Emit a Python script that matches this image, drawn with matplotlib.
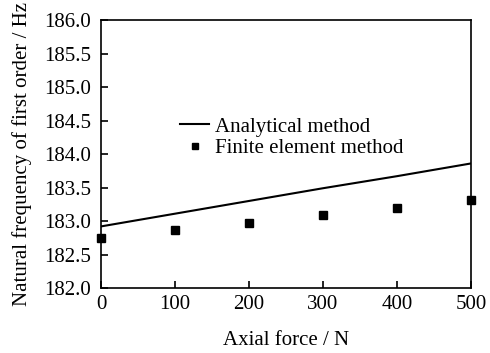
import matplotlib
matplotlib.use("Agg")
import matplotlib.pyplot as plt
import numpy as np

# axial force values (N)
force = [0, 100, 200, 300, 400, 500]
# analytical natural frequency (Hz)
analytical = [182.92, 183.11, 183.30, 183.49, 183.67, 183.86]
# finite element natural frequency (Hz)
fem = [182.75, 182.86, 182.97, 183.09, 183.20, 183.31]

plt.rcParams['font.family'] = ['Liberation Serif', 'DejaVu Serif']
plt.rcParams['font.size'] = 15

fig = plt.figure(figsize=(4.9, 3.53), dpi=100)
ax = fig.add_axes([0.206, 0.184, 0.755, 0.759])

ax.plot(force, analytical, color='black', lw=1.5, label='Analytical method')
ax.plot(force, fem, ls='none', marker='s', ms=5.2, color='black',
        label='Finite element method', clip_on=False, zorder=5)

ax.set_xlim(0, 500)
ax.set_ylim(182.0, 186.0)
ax.set_xticks(np.arange(0, 501, 100))
ax.set_yticks(np.arange(182.0, 186.01, 0.5))
ax.yaxis.set_major_formatter(matplotlib.ticker.FormatStrFormatter('%.1f'))
ax.tick_params(direction='in', length=5, width=1.2, top=False, right=False,
               labelsize=15)
ax.tick_params(axis='x', pad=5)
ax.tick_params(axis='y', pad=7)
for s in ax.spines.values():
    s.set_linewidth(1.2)

ax.set_xlabel('Axial force / N', fontsize=15, labelpad=12)
ax.set_ylabel('Natural frequency of first order / Hz', fontsize=15, labelpad=9)

ax.legend(loc='upper left', bbox_to_anchor=(0.186, 0.677), frameon=False,
          handlelength=1.4, handletextpad=0.25, labelspacing=0.1,
          borderpad=0, markerscale=0.75, fontsize=15)

fig.savefig('out.png', dpi=100)
